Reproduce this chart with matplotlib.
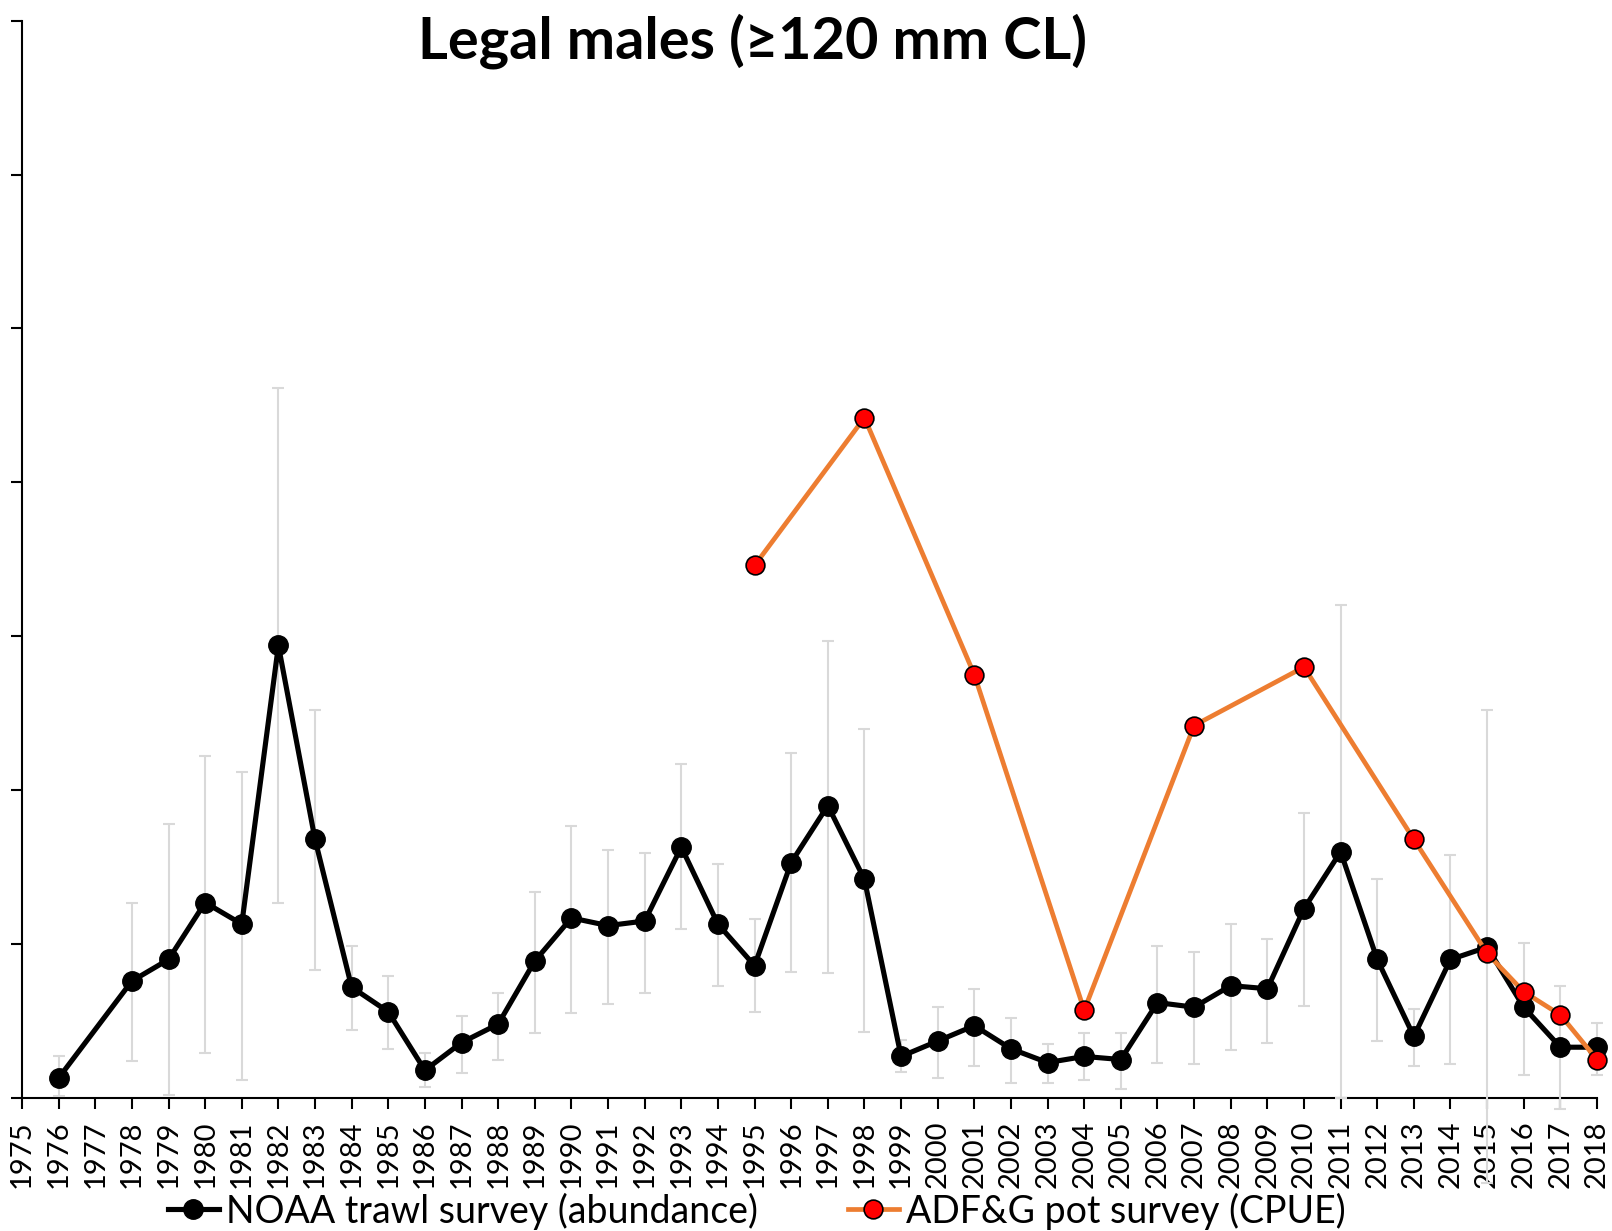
import matplotlib
matplotlib.use("Agg")
import matplotlib.pyplot as plt
import numpy as np

# ---- data ----
trawl_years = [1976, 1978, 1979, 1980, 1981, 1982, 1983, 1984, 1985, 1986, 1987,
               1988, 1989, 1990, 1991, 1992, 1993, 1994, 1995, 1996, 1997, 1998,
               1999, 2000, 2001, 2002, 2003, 2004, 2005, 2006, 2007, 2008, 2009,
               2010, 2011, 2012, 2013, 2014, 2015, 2016, 2017, 2018]
trawl_values = [0.13, 0.76, 0.90, 1.27, 1.13, 2.94, 1.68, 0.72, 0.56, 0.18, 0.36,
                0.48, 0.89, 1.17, 1.12, 1.15, 1.63, 1.13, 0.86, 1.53, 1.90, 1.42,
                0.27, 0.37, 0.47, 0.32, 0.23, 0.27, 0.25, 0.62, 0.59, 0.73, 0.71,
                1.23, 1.60, 0.90, 0.40, 0.90, 0.98, 0.59, 0.33, 0.33]
trawl_upper = [0.27, 1.27, 1.78, 2.22, 2.12, 4.61, 2.52, 0.99, 0.79, 0.29, 0.53,
               0.68, 1.34, 1.77, 1.61, 1.59, 2.17, 1.52, 1.16, 2.24, 2.97, 2.40,
               0.38, 0.59, 0.71, 0.52, 0.35, 0.42, 0.42, 0.99, 0.95, 1.13, 1.03,
               1.85, 3.20, 1.42, 0.58, 1.58, 2.52, 1.01, 0.73, 0.49]
trawl_lower = [0.01, 0.24, 0.02, 0.29, 0.12, 1.27, 0.83, 0.44, 0.32, 0.07, 0.16,
               0.25, 0.42, 0.55, 0.61, 0.68, 1.10, 0.73, 0.56, 0.82, 0.81, 0.43,
               0.17, 0.13, 0.21, 0.10, 0.10, 0.12, 0.06, 0.23, 0.22, 0.31, 0.36,
               0.60, 0.00, 0.37, 0.21, 0.22, -0.55, 0.15, -0.07, 0.15]

pot_years = [1995, 1998, 2001, 2004, 2007, 2010, 2013, 2015, 2016, 2017, 2018]
pot_values = [3.46, 4.42, 2.75, 0.57, 2.42, 2.80, 1.68, 0.94, 0.69, 0.54, 0.25]

year_ticks = list(range(1975, 2019))
title = "Legal males (\u2265120 mm CL)"
label_trawl = "NOAA trawl survey (abundance)"
label_pot = "ADF&G pot survey (CPUE)"

# ---- figure ----
plt.rcParams['font.family'] = ['Lato', 'DejaVu Sans']
W, H = 1612, 1231
fig = plt.figure(figsize=(W / 100, H / 100), dpi=100)
ax = fig.add_axes([22 / W, 1 - 1098 / H, (1597 - 22) / W, (1098 - 20.6) / H])

tv = np.array(trawl_values)
yerr = np.vstack([tv - np.array(trawl_lower), np.array(trawl_upper) - tv])

eb = ax.errorbar(trawl_years, trawl_values, yerr=yerr, fmt='none',
                 ecolor='#D9D9D9', elinewidth=1.5, capsize=4.0, capthick=1.5,
                 zorder=2.6)
for part in list(eb.lines[1]) + list(eb.lines[2]):
    part.set_clip_on(False)

ax.plot(trawl_years, trawl_values, color='black', lw=3.7, marker='o',
        markersize=14, markerfacecolor='black', markeredgecolor='black',
        label=label_trawl, zorder=3, clip_on=False)
ax.plot(pot_years, pot_values, color='#ED7D31', lw=3.4, marker='o',
        markersize=13.5, markerfacecolor='#FF0000', markeredgecolor='black',
        markeredgewidth=1.2, label=label_pot, zorder=4, clip_on=False)

ax.set_xlim(1975, 2018)
ax.set_ylim(0, 7)
ax.set_xticks(year_ticks)
ax.set_xticklabels([str(y) for y in year_ticks], rotation=90, fontsize=21)
ax.set_yticks(range(0, 8))
ax.set_yticklabels([])

for s in ['top', 'right']:
    ax.spines[s].set_visible(False)
for s in ['left', 'bottom']:
    ax.spines[s].set_linewidth(1.5)
    ax.spines[s].set_color('black')
ax.tick_params(axis='both', direction='out', length=8, width=1.5, color='black')
ax.tick_params(axis='x', pad=8)

fig.text(753 / W, 1 - 41 / H, title, ha='center', va='center',
         fontsize=41.5, fontweight='bold')

fig.legend(loc='center', bbox_to_anchor=(757 / W, 1 - 1211 / H), ncol=2,
           frameon=False, fontsize=27, handlelength=1.35, handletextpad=0.2,
           columnspacing=2.4, borderpad=0)

fig.savefig('out.png', dpi=100)
